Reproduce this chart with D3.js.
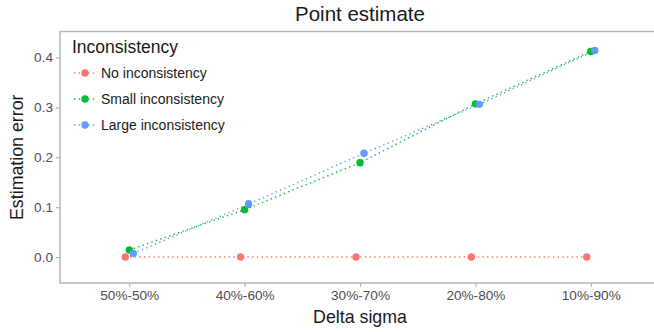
<!DOCTYPE html>
<html>
<head>
<meta charset="utf-8">
<script src="https://cdn.jsdelivr.net/npm/d3@7"></script>
<style>
  html, body { margin: 0; padding: 0; background: #fff; }
  svg { display: block; font-family: "Liberation Sans", Arial, sans-serif; }
</style>
</head>
<body>
<svg id="chart" width="654" height="332"></svg>
<script>
// Delta sigma conditions on the x axis
const categories = ["50%-50%", "40%-60%", "30%-70%", "20%-80%", "10%-90%"];
const seriesNames = ["No inconsistency", "Small inconsistency", "Large inconsistency"];
const seriesColors = ["#F8766D", "#00BA38", "#619CFF"];

// Mean estimation error per condition
const noInconsistency    = [0.000, 0.000, 0.000, 0.000, 0.000];
const smallInconsistency = [0.014, 0.095, 0.189, 0.307, 0.412];
const largeInconsistency = [0.007, 0.106, 0.208, 0.306, 0.414];

// Half-width of the error bars
const noErr    = [0.000, 0.000, 0.000, 0.000, 0.000];
const smallErr = [0.001, 0.003, 0.005, 0.003, 0.004];
const largeErr = [0.001, 0.006, 0.003, 0.003, 0.004];

const yTicks = [0.0, 0.1, 0.2, 0.3, 0.4];

const series = [
  { name: seriesNames[0], color: seriesColors[0], values: noInconsistency, err: noErr, dodge: -1 },
  { name: seriesNames[1], color: seriesColors[1], values: smallInconsistency, err: smallErr, dodge: 0 },
  { name: seriesNames[2], color: seriesColors[2], values: largeInconsistency, err: largeErr, dodge: 1 }
];

const svg = d3.select("#chart");
const panel = { left: 60, right: 660, top: 31.5, bottom: 283 };

const x = d3.scalePoint().domain(categories)
  .range([panel.left, panel.right]).padding(0.6);
const y = d3.scaleLinear().domain([-0.052, 0.452])
  .range([panel.bottom, panel.top]);
const dodgePx = 4;

svg.append("defs").append("clipPath").attr("id", "clip")
  .append("rect").attr("x", panel.left).attr("y", panel.top)
  .attr("width", panel.right - panel.left).attr("height", panel.bottom - panel.top);

// Panel frame
svg.append("rect")
  .attr("x", panel.left).attr("y", panel.top)
  .attr("width", panel.right - panel.left).attr("height", panel.bottom - panel.top)
  .attr("fill", "none").attr("stroke", "#b3b3b3").attr("stroke-width", 1.4);

// Axes
const yAxis = d3.axisLeft(y).tickValues(yTicks).tickFormat(d3.format(".1f")).tickSize(4).tickPadding(3);
const gy = svg.append("g").attr("transform", `translate(${panel.left},0)`).call(yAxis);
const xAxis = d3.axisBottom(x).tickSize(4).tickPadding(3);
const gx = svg.append("g").attr("transform", `translate(0,${panel.bottom})`).call(xAxis);
[gx, gy].forEach(g => {
  g.select(".domain").remove();
  g.selectAll(".tick line").attr("stroke", "#b3b3b3").attr("stroke-width", 1.2);
  g.selectAll(".tick text").attr("fill", "#4d4d4d").attr("font-size", 13.6)
    .attr("font-family", "Liberation Sans, Arial, sans-serif");
});

const plot = svg.append("g").attr("clip-path", "url(#clip)");
const px = (s, i) => x(categories[i]) + s.dodge * dodgePx;

// Dotted connecting lines
series.forEach(s => {
  const line = d3.line().x((d, i) => px(s, i)).y(d => y(d));
  plot.append("path").datum(s.values)
    .attr("d", line).attr("fill", "none")
    .attr("stroke", s.color).attr("stroke-width", 1.4)
    .attr("stroke-dasharray", "1.4,3.3").attr("stroke-linecap", "butt");
});

// Error bars
series.forEach(s => {
  const g = plot.append("g");
  s.values.forEach((v, i) => {
    if (s.err[i] <= 0) return;
    const cx = px(s, i), w = 2.5;
    const y0 = y(v - s.err[i]), y1 = y(v + s.err[i]);
    g.append("line").attr("x1", cx).attr("x2", cx).attr("y1", y0).attr("y2", y1)
      .attr("stroke", "#222").attr("stroke-width", 1);
    [y0, y1].forEach(yy => g.append("line")
      .attr("x1", cx - w).attr("x2", cx + w).attr("y1", yy).attr("y2", yy)
      .attr("stroke", "#222").attr("stroke-width", 1));
  });
});

// Points
series.forEach(s => {
  plot.append("g").selectAll("circle").data(s.values).join("circle")
    .attr("cx", (d, i) => px(s, i)).attr("cy", d => y(d))
    .attr("r", 3.7).attr("fill", s.color);
});

// Legend
const legend = svg.append("g");
legend.append("text").attr("x", 72).attr("y", 53)
  .attr("font-size", 17.5).attr("fill", "#1a1a1a").text("Inconsistency");
series.forEach((s, k) => {
  const ly = 73 + k * 26;
  legend.append("line").attr("x1", 74).attr("x2", 97).attr("y1", ly).attr("y2", ly)
    .attr("stroke", s.color).attr("stroke-width", 1.4).attr("stroke-dasharray", "1.4,3.3");
  legend.append("circle").attr("cx", 85).attr("cy", ly).attr("r", 3.7).attr("fill", s.color);
  legend.append("text").attr("x", 101).attr("y", ly + 5)
    .attr("font-size", 14).attr("fill", "#1a1a1a").text(s.name);
});

// Titles
svg.append("text").attr("x", 360).attr("y", 21).attr("text-anchor", "middle")
  .attr("font-size", 20.5).attr("fill", "#1a1a1a").text("Point estimate");
svg.append("text").attr("x", 360).attr("y", 323).attr("text-anchor", "middle")
  .attr("font-size", 17.8).attr("fill", "#1a1a1a").text("Delta sigma");
svg.append("text").attr("transform", `translate(23,${(panel.top + panel.bottom) / 2}) rotate(-90)`)
  .attr("text-anchor", "middle").attr("font-size", 17.8).attr("fill", "#1a1a1a")
  .text("Estimation error");
</script>
</body>
</html>
